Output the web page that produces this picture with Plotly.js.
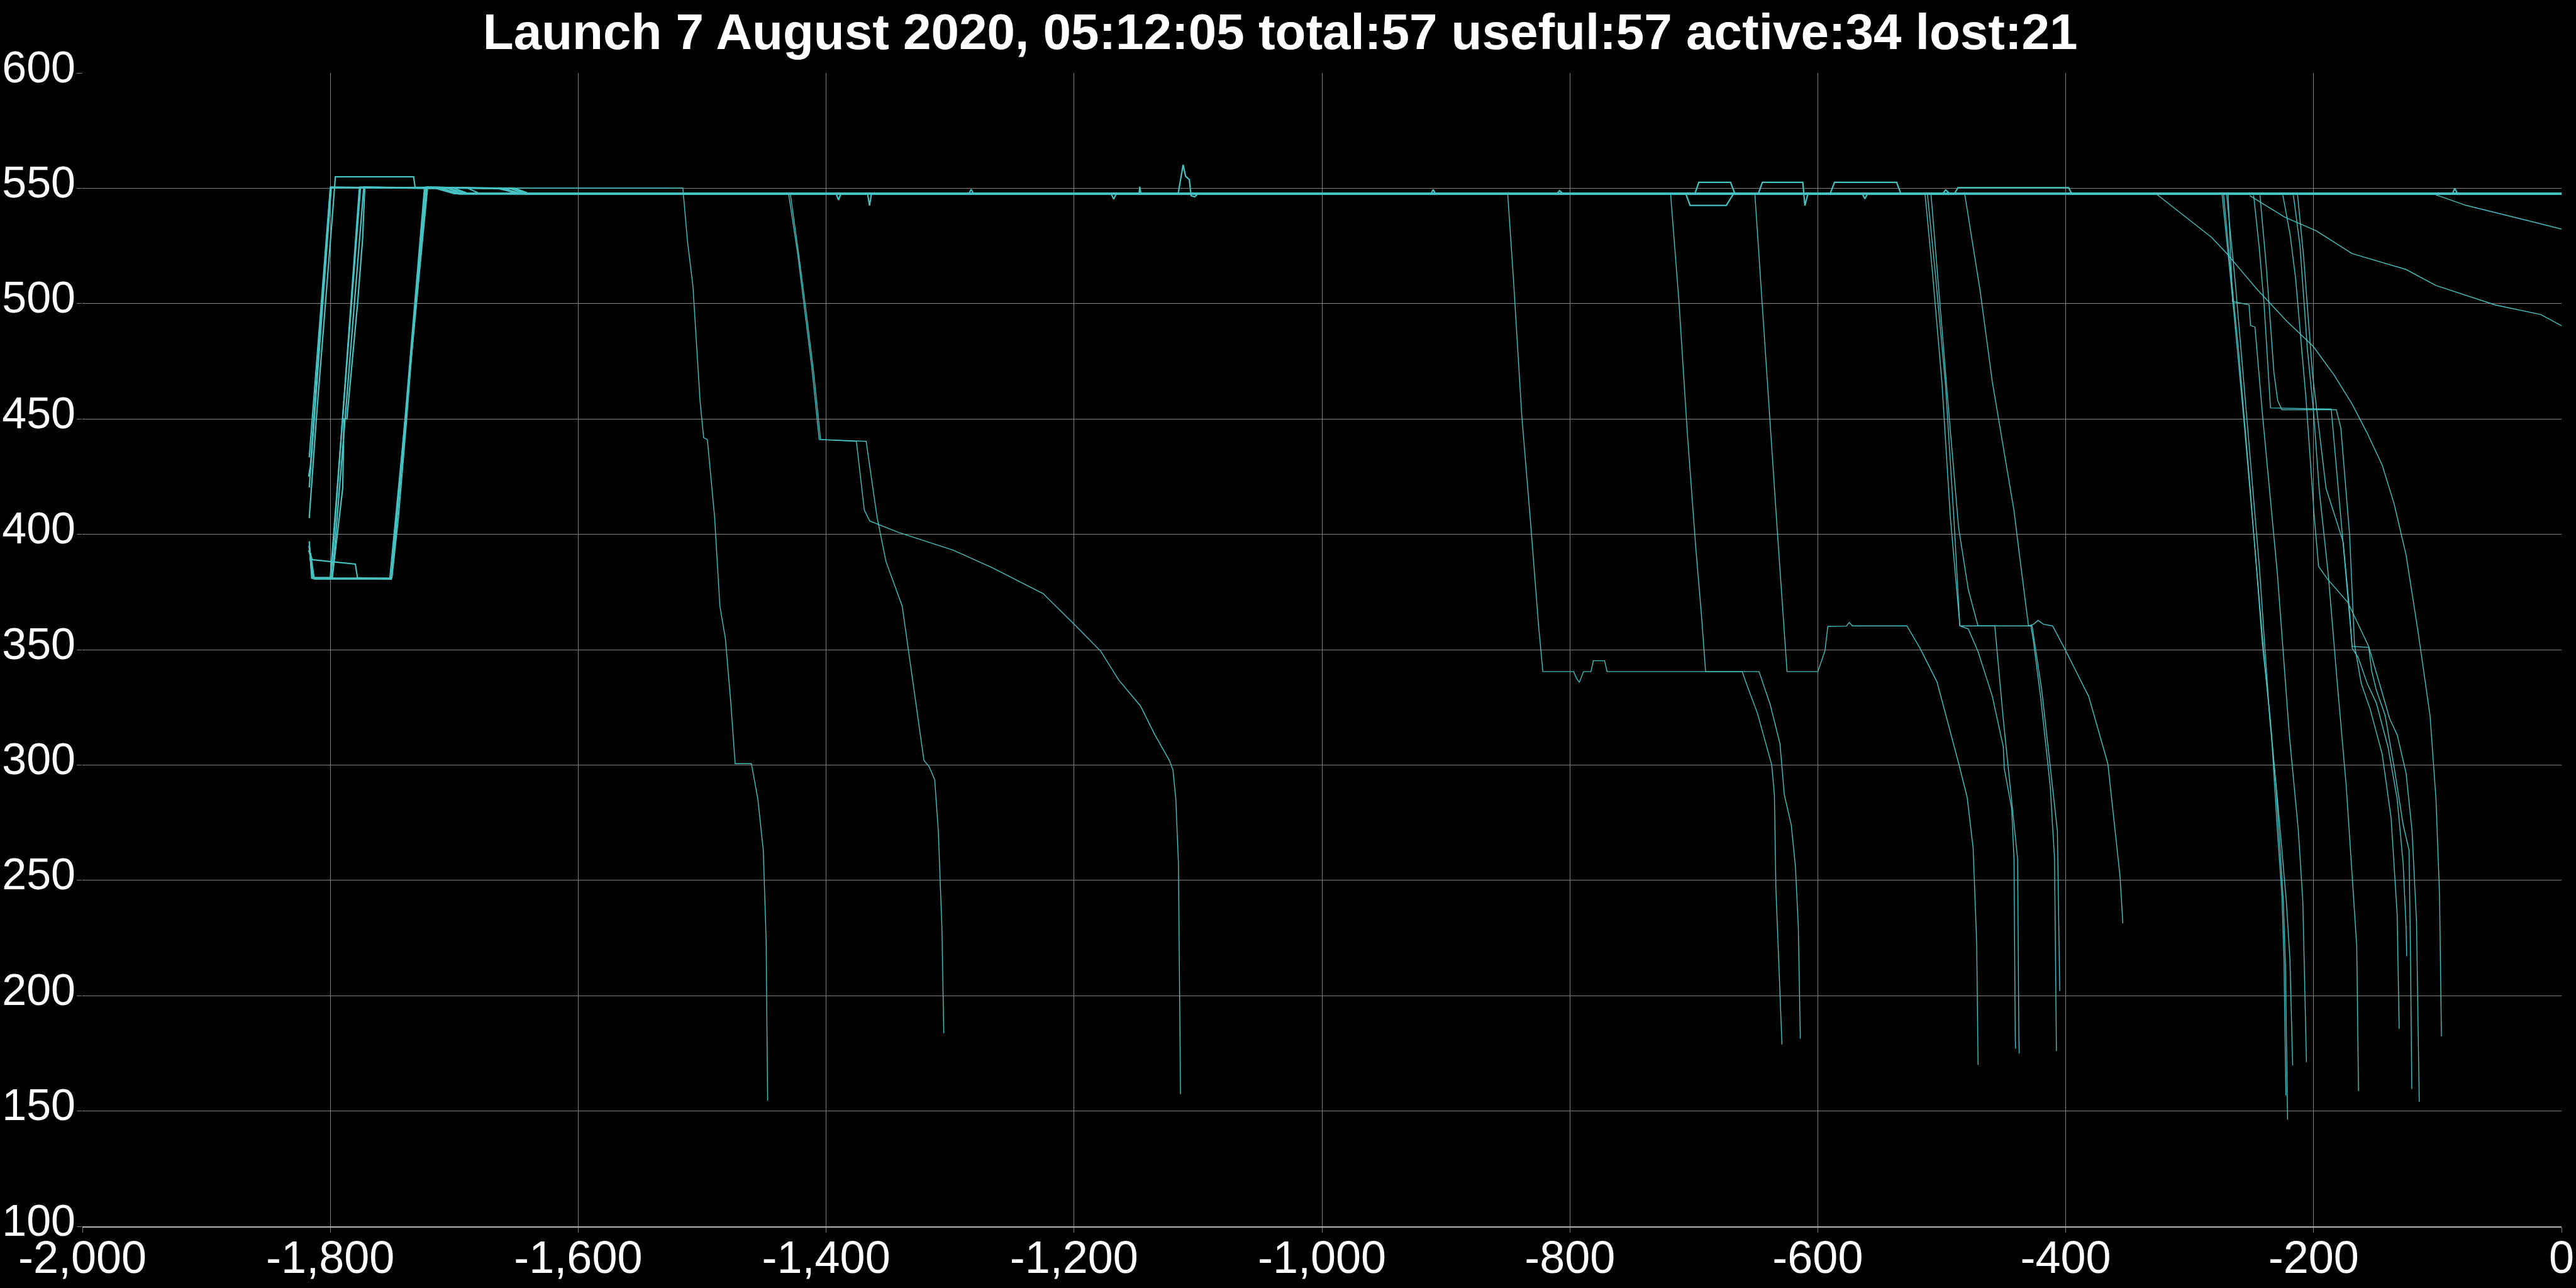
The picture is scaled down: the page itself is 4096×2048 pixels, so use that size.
<!DOCTYPE html>
<html>
<head>
<meta charset="utf-8">
<script src="https://cdn.plot.ly/plotly-3.0.1.min.js"></script>
<style>html,body{margin:0;padding:0;background:#000;}#chart{width:4096px;height:2048px;}</style>
</head>
<body>
<div id="chart"></div>
<script>
// ---- chart text ----
const titleText = "Launch 7 August 2020, 05:12:05 total:57 useful:57 active:34 lost:21";
const xTickVals = [-2000,-1800,-1600,-1400,-1200,-1000,-800,-600,-400,-200,0];
const xTickText = ["-2,000","-1,800","-1,600","-1,400","-1,200","-1,000","-800","-600","-400","-200","0"];
const yTickVals = [100,150,200,250,300,350,400,450,500,550,600];
const yTickText = ["100","150","200","250","300","350","400","450","500","550","600"];

// ---- satellites staying near the operational shell (days, km) ----
const base01_x = [-1817,-1808,-1799.2,-1715,-1700,-1392,-1390,-1388,-1116,-1112,-1110,-1107,-1105.6,-1102.7,-1100,-912,-910.3,-908.5,-88,-86.1,-84,0];
const base01_y = [420.3,485,550.5,550,547.7,547.7,545,547.7,547.7,560.2,555.2,553.8,546.8,546.3,547.7,547.7,549.4,547.7,547.7,550,547.7,547.7];
const base02_x = [-1817,-1800,-1712,-1696,-1366.5,-1365,-1363.5,-1170,-1168,-1166,0];
const base02_y = [433.3,550.3,550,547.5,547.5,542.5,547.5,547.5,545.3,547.5,547.5];
const base03_x = [-1817,-1811,-1798.4,-1795.9,-1732.8,-1731.6,-1690,-1680,-699,-696,-670.4,-667,0];
const base03_y = [407,452,537.5,555,555,550.5,550.3,547.8,547.8,552.6,552.6,547.8,547.8];
const base04_x = [-1817,-1814.5,-1800.1,-1775.6,-1700,-1688,-648,-644.7,-612.1,-610.4,-608,0];
const base04_y = [394.9,381.2,380.6,550.5,550,547.6,547.6,552.6,552.6,542.5,547.6,547.6];
const base05_x = [-1817,-1814.5,-1798.4,-1773,-1652,-1640,-706.5,-703,-673.8,-668,0];
const base05_y = [394.9,381.2,381.2,550.5,550,547.6,547.6,542.6,542.6,547.6,547.6];
const base06_x = [-1817,-1814.5,-1812.8,-1751,-1750.2,-1745.1,-1738.4,-1731.6,-1723.1,-1665,-1648,-590,-586.5,-536.4,-533,0];
const base06_y = [394.9,381.2,380.6,380.6,381.9,407.3,450.2,498.4,550.5,550,547.7,547.7,552.6,552.6,547.7,547.7];
const base07_x = [-1816,-1813,-1752,-1721.5,-1655,-1642,-564,-562,-560,-490,-486.9,-397.7,-395,0];
const base07_y = [392,380.8,380.8,550.5,550,547.5,547.5,545.5,547.5,547.5,550.3,550.3,547.5,547.5];
const base08_x = [-1817.5,-1814.5,-1779.8,-1778.1,-1751,-1722,-1650,-1640,0];
const base08_y = [393,389,387.1,381.2,380.6,550.5,549.8,547.8,547.8];
const base09_x = [-1817,-1814.5,-1798.4,-1790,-1789,-1786.6,-1778,-1773.9,-1772.2,-1705,-1695,0];
const base09_y = [394.9,381.2,381.2,420,450,450.2,500,528.3,550.5,550,547.7,547.7];
const base10_x = [-1817.5,-1816,-1799.8,-1710,-1698,-810,-808.4,-806,-499,-496.8,-494,0];
const base10_y = [425,430,550.5,550,547.9,547.9,549,547.9,547.9,549.3,547.9,547.9];
const base11_x = [-1817,-1815,-1750.5,-1724,-1660,-1645,-1285,-1283,-1281,0];
const base11_y = [397,381,381,550.3,549.8,547.6,547.6,549.5,547.6,547.6];
const base12_x = [-1817,-1814,-1799.5,-1776.5,-1705,-1690,-1147.5,-1147,-1146,0];
const base12_y = [395,381,381,550.5,550,547.7,547.7,550.7,547.7,547.7];

// ---- slowly decaying, still active ----
const slowA_x = [-251.5,-223,-198,-169,-125.4,-101.4,-53.3,-16.7,0];
const slowA_y = [546.8,537.4,531.6,521.7,514.8,507.9,499.4,495.3,490.4];
const slowB_x = [-103.7,-77.1,-28.8,0];
const slowB_y = [547.6,542.6,536.2,532.3];

// ---- lost satellites (left group) ----
const lost01_x = [-1816.5,-1814,-1750.5,-1722.5,-1515.6,-1511.9,-1507.5,-1504.6,-1501.7,-1498.8,-1495.8,-1490.0,-1485.7,-1481.3,-1476.9,-1473.4,-1460.3,-1455.1,-1450.7,-1448.4,-1447.2];
const lost01_y = [394,381,381,550.1,550.1,527.3,507.9,482.8,457.8,441.9,441.1,407.7,368.8,354.9,327.0,300.6,300.6,285.3,263.0,224.1,154.5];
const lost02_x = [-1430.3,-1423.0,-1417.2,-1411.4,-1405.6,-1375.6,-1369.2,-1364.8,-1341.5,-1297.8,-1265.8,-1225.0,-1198.8,-1178.4,-1163.9,-1146.4,-1134.8,-1123.1,-1120.2,-1117.9,-1115.8,-1114.1];
const lost02_y = [547.6,521.8,496.7,471.7,441.1,440.3,410.5,405.8,400.8,393.2,385.5,374.3,360.4,349.3,336.8,325.6,313.1,302.0,297.8,285.3,257.5,157.3];
const lost03_x = [-1428.9,-1422,-1416,-1410,-1404.5,-1367.7,-1359.0,-1351.7,-1338.6,-1329.9,-1321.1,-1316.8,-1312.4,-1309.5,-1306.6,-1305.1];
const lost03_y = [547.6,521,496,470,441.1,440.3,407.7,388.2,368.8,335.4,302.0,299.2,293.6,271.4,229.7,183.7];

// ---- lost satellites (middle group) ----
const lost04_x = [-850.2,-845.6,-838.8,-832.0,-825.2,-821.8,-797,-794.5,-792.4,-789,-783,-781.1,-772,-770,-661.0,-657.6,-648.6,-644.0,-637.2,-635.0,-633.8,-628.9];
const lost04_y = [547.9,511.3,451.4,407.0,360.1,340.5,340.5,337.5,335.8,340.5,340.5,345.2,345.2,340.5,340.5,335.3,322.3,313.1,300.1,287.1,246.6,178.8];
const lost05_x = [-718.8,-715.4,-712.0,-705.2,-698.4,-693.9,-690.5,-647.4,-638.4,-630.5,-627.0,-621.4,-618.0,-615.7,-614.1];
const lost05_y = [547.9,524.4,500.9,443.5,394.0,365.3,340.5,340.5,326.2,309.2,287.1,274.0,255.8,229.7,181.4];
const lost06_x = [-650.8,-646.3,-639.5,-632.7,-624.8,-599.9,-594.2,-591.9,-577,-574.7,-572,-528.1,-517.4,-503.8,-486.3,-479.5,-474.7,-471.8,-470.7];
const lost06_y = [547.9,511.3,454.0,401.8,340.5,340.5,349.6,360.1,360.2,361.8,360.3,360.3,350.5,336.0,300.6,286.0,264.1,222.7,170];
const lost07_x = [-513.5,-507.7,-499.9,-493.1,-485.4,-428.1,-426.2,-420.3,-412.5,-409,-407.5];
const lost07_y = [547.7,514.8,466.1,407.7,360.3,360.3,354.2,329.8,290.9,259.3,176];
const lost08_x = [-511.6,-505,-497,-490,-485.4,-478.6,-470.8,-459.2,-450.4,-449.5,-443.6,-441.7,-440.7,-440.5];
const lost08_y = [547.7,512,465,405,360.3,359,349.3,329.8,308,298.2,281.2,259.3,181.8,177];
const lost09_x = [-508.7,-501.9,-494.1,-486.4,-478.6,-470.8,-457.2,-450.4,-443.6,-438.8,-437.8,-437.5];
const lost09_y = [547.7,502.7,451.5,402.9,376.1,360.3,360.3,320.1,283.6,259.3,181.8,175];
const lost10_x = [-481.5,-477.6,-468.9,-459.2,-441.7,-437.8,-430.0,-426,-422.3,-418,-410.6,-400.9,-381.5,-366.0,-356.2,-353.9];
const lost10_y = [547.7,534.3,505.1,466.1,410.2,393.1,360.3,361,362.7,361,360.3,350.5,329.8,300.6,251.9,231.3];
const lost11_x = [-430,-427.1,-419.3,-411.6,-406.7,-404.8];
const lost11_y = [360.3,360.3,332.3,295.8,271.4,202.0];

// ---- lost satellites (right group) ----
const lost12_x = [-273.9,-270.2,-265.4,-255.8,-246.1,-238.9,-234.0,-229.2,-225.6,-223.9,-222.4];
const lost12_y = [547.6,527.3,502.3,446.7,385.4,340.9,313.1,271.4,243.6,215.7,156.8];
const lost13_x = [-272.7,-267.8,-260.6,-251.0,-241.3,-235.2,-230.4,-224.4,-222.7,-221.0];
const lost13_y = [547.6,519.0,480.0,418.8,352.1,321.5,290.9,240.8,213.0,146.2];
const lost14_x = [-270.2,-263.0,-253.3,-243.7,-235.2,-229.2,-222.0,-219.1,-216.9];
const lost14_y = [547.6,507.9,446.7,385.4,318.7,285.3,240.8,215.7,169.8];
const lost15_x = [-269.0,-265.4,-252.1,-250.9,-247.3,-241.3,-229.2,-219.6,-212.3,-208.7,-205.8];
const lost15_y = [547.6,500.9,499.5,490.6,489.8,452.2,382.7,313.1,271.4,240.8,171.2];
const lost16_x = [-216.3,-211,-205,-200.2,-195.4,-188.2,-180.9,-173.7,-168.9,-165.2,-163.8];
const lost16_y = [547,525,480,454,418.8,382.7,335.4,290.9,251.9,221.3,158.7];
const lost17_x = [-213,-208,-201,-190,-176.1,-171.3,-168.9,-164.0,-156.8,-149.5,-139.9,-132.6,-127.8,-125.4,-124.9];
const lost17_y = [547.5,520,470,420,396.6,368.8,350.7,346.5,335.4,327.0,307.6,285.3,257.5,229.7,217.1];
const lost18_x = [-224.8,-219,-214.6,-206.2,-199.4,-196.0,-189.3,-172.4,-155.5,-138.6,-132.6,-125.4,-120.6,-117.0,-114.8];
const lost18_y = [547,530,511.3,459.2,407,386.1,380.9,370.5,351.3,320.0,313.1,296.4,271.4,232.4,154.0];
const lost19_x = [-248.4,-244,-240,-234.8,-185.8,-180.8,-168.9,-155.5,-153.2,-149.5,-142.3,-135.1,-127.8,-123.0,-121.8,-120.8];
const lost19_y = [547,525,500,454.8,454.3,424.4,351.4,351,340.9,332.6,321.5,299.2,274.2,263.0,215.7,159.6];
const lost20_x = [-243.3,-238,-232,-229,-225.6,-181.7,-178,-171,-167,-161.6,-154.4,-144.7,-137.5,-132.6,-131.0];
const lost20_y = [547,515,470,458,454,454,446,400,352,335.4,324.2,304.8,277.0,235.2,185.7];
const lost21_x = [-327.0,-299.2,-282.3,-270.2,-246.1,-222.0,-200.2,-183.3,-168.9,-156.8,-144.7,-135.1,-125.4,-115.7,-106.1,-101.3,-98.4,-96.9];
const lost21_y = [547.6,535.7,528.7,521.8,506.5,492.6,481.4,468.9,456.4,443.9,430.0,413.3,391.0,357.6,321.5,285.3,243.6,182.4];

const baseSeries = [
  [base01_x,base01_y],[base02_x,base02_y],[base03_x,base03_y],[base04_x,base04_y],
  [base05_x,base05_y],[base06_x,base06_y],[base07_x,base07_y],[base08_x,base08_y],
  [base09_x,base09_y],[base10_x,base10_y],[base11_x,base11_y],[base12_x,base12_y]
];
const otherSeries = [
  [slowA_x,slowA_y],[slowB_x,slowB_y],
  [lost01_x,lost01_y],[lost02_x,lost02_y],[lost03_x,lost03_y],[lost04_x,lost04_y],
  [lost05_x,lost05_y],[lost06_x,lost06_y],[lost07_x,lost07_y],[lost08_x,lost08_y],
  [lost09_x,lost09_y],[lost10_x,lost10_y],[lost11_x,lost11_y],[lost12_x,lost12_y],
  [lost13_x,lost13_y],[lost14_x,lost14_y],[lost15_x,lost15_y],[lost16_x,lost16_y],
  [lost17_x,lost17_y],[lost18_x,lost18_y],[lost19_x,lost19_y],[lost20_x,lost20_y],
  [lost21_x,lost21_y]
];

const lineColor = "#46c2c2";
const traces = [];
baseSeries.forEach(function(s){
  traces.push({x:s[0], y:s[1], type:"scatter", mode:"lines",
    line:{color:lineColor, width:2.2}, hoverinfo:"skip", showlegend:false});
});
otherSeries.forEach(function(s){
  traces.push({x:s[0], y:s[1], type:"scatter", mode:"lines",
    line:{color:lineColor, width:1.4}, hoverinfo:"skip", showlegend:false});
});

const fontFam = "Liberation Sans, Arial, Helvetica, sans-serif";
const layout = {
  width:4096, height:2048,
  paper_bgcolor:"#000000", plot_bgcolor:"#000000",
  margin:{l:131, r:23, t:116, b:98, pad:0},
  title:{text:"<b>"+titleText+"</b>", x:0.497, xref:"container", xanchor:"center",
         y:1-50/2048, yref:"container", yanchor:"middle",
         font:{family:fontFam, size:80, color:"#ffffff"}},
  font:{family:fontFam, color:"#ffffff"},
  xaxis:{range:[-2000,0], tickmode:"array", tickvals:xTickVals, ticktext:xTickText,
         showgrid:true, gridcolor:"#808080", gridwidth:1, zeroline:false,
         showline:true, linecolor:"#b4b4b4", linewidth:2, mirror:false,
         ticks:"outside", ticklen:8, tickwidth:1, tickcolor:"#808080",
         ticklabelstandoff:-22,
         tickfont:{family:fontFam, size:72, color:"#ffffff"}},
  yaxis:{range:[100,600], tickmode:"array", tickvals:yTickVals, ticktext:yTickText,
         showgrid:true, gridcolor:"#808080", gridwidth:1, zeroline:false,
         showline:false,
         ticks:"outside", ticklen:8, tickwidth:1, tickcolor:"#808080",
         ticklabelstandoff:-12, ticklabelshift:-10,
         tickfont:{family:fontFam, size:70, color:"#ffffff"}}
};
Plotly.newPlot("chart", traces, layout, {staticPlot:true, displayModeBar:false});
</script>
</body>
</html>
